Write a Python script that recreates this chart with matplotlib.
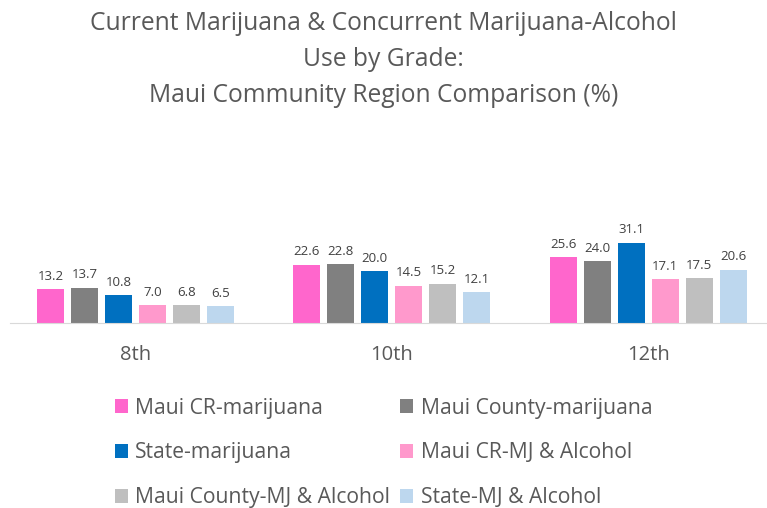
import matplotlib.pyplot as plt
import numpy as np

grades = ["8th", "10th", "12th"]
series_names = ["Maui CR-marijuana", "Maui County-marijuana", "State-marijuana",
                "Maui CR-MJ & Alcohol", "Maui County-MJ & Alcohol", "State-MJ & Alcohol"]
maui_cr_mj = [13.2, 22.6, 25.6]
maui_county_mj = [13.7, 22.8, 24.0]
state_mj = [10.8, 20.0, 31.1]
maui_cr_mj_alc = [7.0, 14.5, 17.1]
maui_county_mj_alc = [6.8, 15.2, 17.5]
state_mj_alc = [6.5, 12.1, 20.6]

values = [maui_cr_mj, maui_county_mj, state_mj, maui_cr_mj_alc, maui_county_mj_alc, state_mj_alc]
colors = ["#FF66CC", "#808080", "#0070C0", "#FF99CC", "#BFBFBF", "#BDD7EE"]
txt = "#595959"

plt.rcParams['font.family'] = ['Open Sans', 'DejaVu Sans']

fig = plt.figure(figsize=(7.67, 5.08), dpi=100)
ax = fig.add_axes([0.0096, 0.364, 1.0025, 0.255])

x = np.arange(len(grades))
step = 0.1327
width = 0.105
bars = []
for i, (vals, c) in enumerate(zip(values, colors)):
    b = ax.bar(x + (i - 2.5) * step, vals, width, color=c, label=series_names[i])
    bars.append(b)
    for xi, v in zip(x + (i - 2.5) * step, vals):
        ax.text(xi, v + 2.4, f"{v:.1f}", ha="center", va="bottom", fontsize=9.5, color="#404040")

ax.set_xlim(-0.5, 2.5)
ax.set_ylim(0, 50)
ax.set_yticks([])
ax.set_xticks(x)
ax.set_xticklabels(grades, fontsize=14.5, color=txt)
ax.tick_params(axis="x", length=0, pad=16)
for s in ["top", "right", "left"]:
    ax.spines[s].set_visible(False)
ax.spines["bottom"].set_color("#D9D9D9")
ax.spines["bottom"].set_bounds(-0.49, 2.47)

fig.text(0.5, 0.978, "Current Marijuana & Concurrent Marijuana-Alcohol\nUse by Grade:\nMaui Community Region Comparison (%)",
         ha="center", va="top", fontsize=17.7, color=txt, linespacing=1.57)

order = [0, 2, 4, 1, 3, 5]
handles = [bars[i] for i in order]
labels = [series_names[i] for i in order]
fig.legend(handles, labels, ncol=2, loc="lower left", bbox_to_anchor=(0.125, -0.038),
           frameon=False, fontsize=15.2, labelcolor=txt, handlelength=0.6, handleheight=0.6,
           handletextpad=0.35, columnspacing=0.5, labelspacing=1.13)

fig.savefig("out.png", dpi=100)
